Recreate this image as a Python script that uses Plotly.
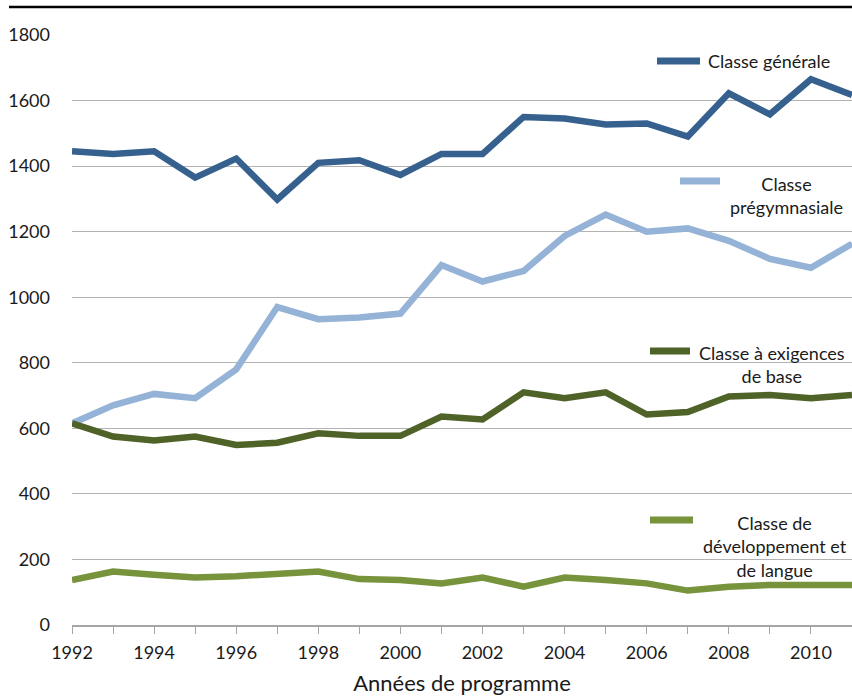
import plotly.graph_objects as go

years = list(range(1992, 2012))

generale = [1445, 1437, 1445, 1365, 1423, 1298, 1410, 1418, 1373, 1437,
            1437, 1550, 1545, 1527, 1530, 1490, 1622, 1558, 1665, 1617]
pregymnasiale = [615, 670, 705, 692, 780, 970, 933, 938, 950, 1098,
                 1048, 1080, 1187, 1252, 1200, 1210, 1172, 1117, 1090, 1163]
exigences_base = [615, 575, 563, 575, 549, 556, 585, 577, 577, 636,
                  627, 710, 692, 710, 642, 650, 697, 702, 692, 702]
developpement = [137, 163, 153, 145, 149, 155, 163, 140, 137, 127,
                 145, 117, 145, 137, 127, 105, 117, 122, 122, 122]

series = [
    ("Classe générale", generale, "#36618F"),
    ("Classe prégymnasiale", pregymnasiale, "#95B3D7"),
    ("Classe à exigences de base", exigences_base, "#4F6228"),
    ("Classe de développement et de langue", developpement, "#77933C"),
]

FONT = "Lato"

# plot area in pixels: x 72..852, y 35..625
L, R, T, B = 72, 852, 35, 625


def px_x(p):
    return (p - L) / (R - L)


def px_y(p):
    return (B - p) / (B - T)


fig = go.Figure()
for name, vals, color in series:
    fig.add_trace(go.Scatter(x=years, y=vals, name=name, mode="lines",
                             line=dict(color=color, width=6.5),
                             showlegend=False))

# hand-placed legend like the original
labels = [
    ("Classe générale", "#36618F", 657, 700, 61, 706, 61, "left"),
    ("Classe<br>prégymnasiale", "#95B3D7", 680, 720, 181, 786, 195.5, "center"),
    ("Classe à exigences<br>de base", "#4F6228", 650, 690, 351, 772, 364, "center"),
    ("Classe de<br>développement et<br>de langue", "#77933C", 650, 693, 520, 775, 546.5, "center"),
]
for text, color, x0, x1, ys, xt, yt, anchor in labels:
    fig.add_shape(type="line", xref="paper", yref="paper",
                  x0=px_x(x0), x1=px_x(x1), y0=px_y(ys), y1=px_y(ys),
                  line=dict(color=color, width=7))
    fig.add_annotation(xref="paper", yref="paper", x=px_x(xt), y=px_y(yt),
                       text=text, showarrow=False, xanchor=anchor,
                       yanchor="middle", align="center",
                       font=dict(family=FONT, size=18, color="#1a1a1a"))

# black rule at the top
fig.add_shape(type="line", xref="paper", yref="paper",
              x0=px_x(9), x1=px_x(852), y0=px_y(7), y1=px_y(7),
              line=dict(color="black", width=2.5))

fig.update_layout(
    width=852, height=696,
    margin=dict(l=L, r=852 - R, t=T, b=696 - B),
    plot_bgcolor="white", paper_bgcolor="white",
    font=dict(family=FONT, size=18, color="#1a1a1a"),
)
fig.update_xaxes(
    range=[1992, 2011], dtick=2, tick0=1992,
    showgrid=False, zeroline=False,
    showline=True, linecolor="#A6A6A6", linewidth=1.5,
    ticks="outside", ticklen=7, tickcolor="#A6A6A6",
    minor=dict(dtick=1, ticks="outside", ticklen=7, tickcolor="#A6A6A6"),
    ticklabelstandoff=4,
    title=dict(text="Années de programme", standoff=17,
               font=dict(family=FONT, size=22)),
)
fig.update_yaxes(
    range=[0, 1800], dtick=200, showgrid=True, gridcolor="#B3B3B3",
    gridwidth=1, zeroline=False, ticks="", showline=False,
    ticklabelstandoff=21,
)

fig.write_html("out.html", config={"displayModeBar": False},
               post_script="document.body.style.margin='0';")
